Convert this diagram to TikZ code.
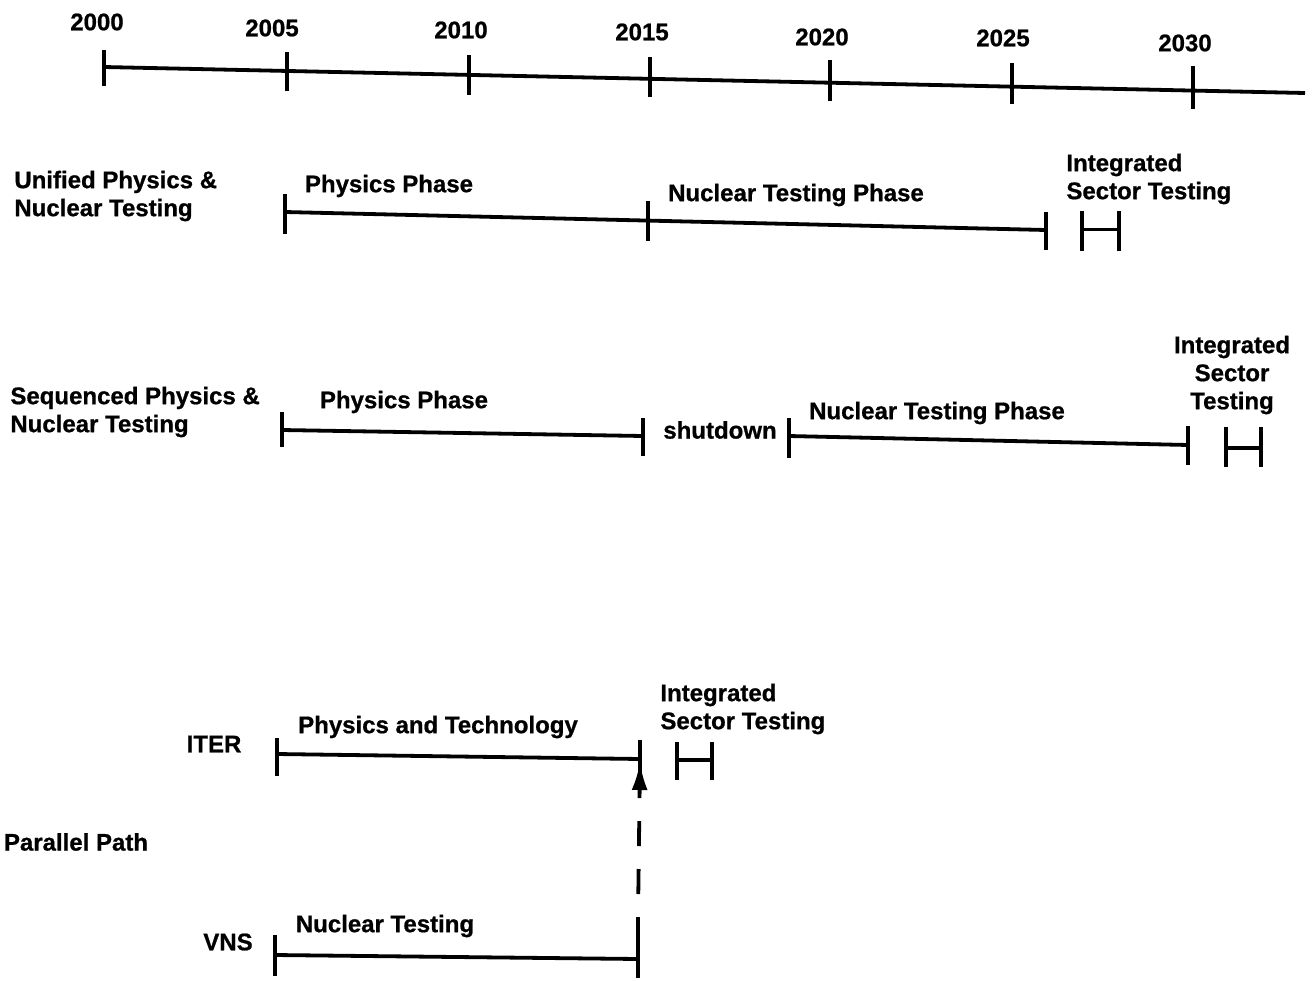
\documentclass[tikz,border=0pt]{standalone}
\usepackage{fontspec}
\newfontfamily\lblfont{Liberation Sans}[BoldFeatures={FakeBold=0.8}]
\usetikzlibrary{arrows.meta}
\begin{document}
\begin{tikzpicture}[x=5pt,y=-5pt,
  bar/.style={line width=1.9pt},
  lbl/.style={font=\lblfont\bfseries\fontsize{12}{14}\selectfont, inner sep=0pt}]
\useasboundingbox (0,0) rectangle (131.2,98);

% time axis
\draw[bar] (10.4,6.7) -- (130.5,9.3);
\draw[bar] (10.4,5.0) -- (10.4,8.6);
\draw[bar] (28.7,5.2) -- (28.7,9.1);
\draw[bar] (46.9,5.5) -- (46.9,9.5);
\draw[bar] (65.0,5.7) -- (65.0,9.7);
\draw[bar] (83.0,6.0) -- (83.0,10.1);
\draw[bar] (101.2,6.3) -- (101.2,10.4);
\draw[bar] (119.3,6.6) -- (119.3,10.9);

\node[lbl] (y2000) at (9.7,2.2) {2000};
\node[lbl] (y2005) at (27.2,2.8) {2005};
\node[lbl] (y2010) at (46.1,3.0) {2010};
\node[lbl] (y2015) at (64.2,3.2) {2015};
\node[lbl] (y2020) at (82.2,3.7) {2020};
\node[lbl] (y2025) at (100.3,3.8) {2025};
\node[lbl] (y2030) at (118.5,4.3) {2030};

% unified path
\node[lbl, align=left, anchor=west] (unified) at (1.4,19.6) {Unified Physics \&\\Nuclear Testing};
\draw[bar] (28.5,21.2) -- (104.6,23.0);
\draw[bar] (28.5,19.4) -- (28.5,23.4);
\draw[bar] (64.8,20.1) -- (64.8,24.1);
\draw[bar] (104.6,21.2) -- (104.6,25.0);
\draw[bar] (108.2,21.1) -- (108.2,25.1) (108.2,22.95) -- (111.9,22.95) (111.9,21.1) -- (111.9,25.1);
\node[lbl] (phys1) at (38.9,18.6) {Physics Phase};
\node[lbl] (nucl1) at (79.6,19.5) {Nuclear Testing Phase};
\node[lbl, align=left, anchor=west] (sect1) at (106.6,17.9) {Integrated\\Sector Testing};

% sequenced path
\node[lbl, align=left, anchor=west] (sequenced) at (1.0,41.2) {Sequenced Physics \&\\Nuclear Testing};
\draw[bar] (28.2,43.0) -- (64.3,43.6);
\draw[bar] (28.2,41.2) -- (28.2,44.7);
\draw[bar] (64.3,41.8) -- (64.3,45.6);
\draw[bar] (78.9,43.6) -- (118.8,44.5);
\draw[bar] (78.9,41.8) -- (78.9,45.8);
\draw[bar] (118.8,42.6) -- (118.8,46.5);
\draw[bar] (122.6,42.7) -- (122.6,46.7) (122.6,44.8) -- (126.1,44.8) (126.1,42.7) -- (126.1,46.7);
\node[lbl] (phys2) at (40.4,40.2) {Physics Phase};
\node[lbl] (shut) at (72.0,43.0) {shutdown};
\node[lbl] (nucl2) at (93.7,41.3) {Nuclear Testing Phase};
\node[lbl, align=center] (sect2) at (123.2,37.5) {Integrated\\Sector\\Testing};

% parallel path
\node[lbl] (parallel) at (7.6,84.2) {Parallel Path};
\node[lbl] (iter) at (21.4,74.4) {ITER};
\draw[bar] (27.7,75.4) -- (64.0,75.9) coordinate (iterend);
\draw[bar] (27.7,73.8) -- (27.7,77.6);
\draw[bar] (64.0,74.0) -- (64.0,77.6);
\draw[bar] (67.7,74.2) -- (67.7,78.0) (67.7,76.0) -- (71.2,76.0) (71.2,74.2) -- (71.2,78.0);
\node[lbl] (tech) at (43.8,72.7) {Physics and Technology};
\node[lbl, align=left, anchor=west] (sect3) at (66.0,70.9) {Integrated\\Sector Testing};

\node[lbl] (vns) at (22.8,94.2) {VNS};
\draw[bar] (27.5,95.5) -- (63.8,95.9);
\draw[bar] (27.5,93.5) -- (27.5,97.6);
\draw[bar] (63.8,97.8) -- (63.8,91.7) coordinate (vnsend);
\node[lbl] (nucl3) at (38.5,92.6) {Nuclear Testing};

\draw[bar, dash pattern=on 12.5pt off 11.5pt, dash phase=12.5pt, -{Latex[length=14pt,width=8pt]}] (vnsend) -- (64.0,76.2);
\end{tikzpicture}
\end{document}
